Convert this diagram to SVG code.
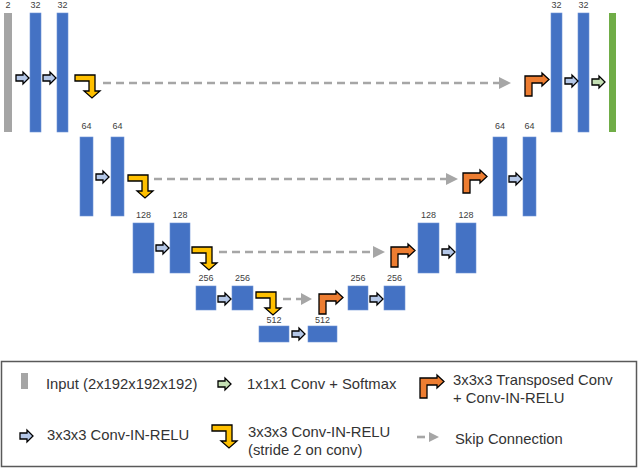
<svg xmlns="http://www.w3.org/2000/svg" xmlns:xlink="http://www.w3.org/1999/xlink" width="640" height="468" viewBox="0 0 640 468">
<style>
.bar{fill:#4472c4;stroke:#6f93d6;stroke-width:0.6}
.inp{fill:#a5a5a5}
.out{fill:#70ad47}
.lbl{font-family:"Liberation Sans",Arial,sans-serif;font-size:9px;fill:#404040;text-anchor:middle}
.leg{font-family:"Liberation Sans",Arial,sans-serif;font-size:14.8px;fill:#333}
.skip{stroke:#a6a6a6;stroke-width:2.6;stroke-dasharray:8 5;fill:none}
.ah{fill:#a6a6a6}
.blk{stroke:#000;stroke-width:1.3;stroke-linejoin:miter}
</style>
<defs>
<path id="conv" class="blk" fill="#b4c7e7" d="M0,3 H7 V0 L13,6 L7,12 V9 H0 Z"/>
<path id="soft" class="blk" fill="#c5e0b4" d="M0,3 H7 V0 L13,6 L7,12 V9 H0 Z"/>
<path id="down" class="blk" fill="#ffc000" d="M0,0 H20 V16 H25 L17,23 L9,16 H14 V6 H0 Z"/>
<path id="up" class="blk" fill="#ed7d31" d="M0,23 V3 H17 V0 L24,6.5 L17,13 V10 H7 V23 Z"/>
</defs>

<g id="nodes">
<g id="input"><rect class="inp" x="4" y="13" width="8" height="119"/><text class="lbl" x="8" y="8">2</text></g>
<g id="enc1a"><rect class="bar" x="30" y="13" width="11" height="119"/><text class="lbl" x="35.5" y="8">32</text></g>
<g id="enc1b"><rect class="bar" x="57" y="13" width="11" height="119"/><text class="lbl" x="62.5" y="8">32</text></g>
<g id="dec1a"><rect class="bar" x="551" y="13" width="11" height="119"/><text class="lbl" x="556.5" y="8">32</text></g>
<g id="dec1b"><rect class="bar" x="578" y="13" width="11" height="119"/><text class="lbl" x="583.5" y="8">32</text></g>
<g id="output"><rect class="out" x="609" y="13" width="7" height="119"/></g>

<g id="enc2a"><rect class="bar" x="80" y="137" width="13" height="79"/><text class="lbl" x="86.5" y="129">64</text></g>
<g id="enc2b"><rect class="bar" x="111" y="137" width="13" height="79"/><text class="lbl" x="117.5" y="129">64</text></g>
<g id="dec2a"><rect class="bar" x="493" y="137" width="14" height="79"/><text class="lbl" x="500" y="129">64</text></g>
<g id="dec2b"><rect class="bar" x="523" y="137" width="13" height="79"/><text class="lbl" x="529.5" y="129">64</text></g>

<g id="enc3a"><rect class="bar" x="133" y="223" width="21" height="50"/><text class="lbl" x="143.5" y="218">128</text></g>
<g id="enc3b"><rect class="bar" x="170" y="223" width="20" height="50"/><text class="lbl" x="180" y="218">128</text></g>
<g id="dec3a"><rect class="bar" x="418" y="223" width="21" height="50"/><text class="lbl" x="428.5" y="218">128</text></g>
<g id="dec3b"><rect class="bar" x="456" y="223" width="20" height="50"/><text class="lbl" x="466" y="218">128</text></g>

<g id="enc4a"><rect class="bar" x="196" y="286" width="20" height="24"/><text class="lbl" x="206" y="281">256</text></g>
<g id="enc4b"><rect class="bar" x="232" y="286" width="21" height="24"/><text class="lbl" x="242.5" y="281">256</text></g>
<g id="dec4a"><rect class="bar" x="348" y="286" width="20" height="24"/><text class="lbl" x="358" y="281">256</text></g>
<g id="dec4b"><rect class="bar" x="384" y="286" width="21" height="24"/><text class="lbl" x="394.5" y="281">256</text></g>

<g id="bott1"><rect class="bar" x="259" y="326" width="30" height="16"/><text class="lbl" x="274" y="323">512</text></g>
<g id="bott2"><rect class="bar" x="308" y="326" width="29" height="16"/><text class="lbl" x="322.5" y="323">512</text></g>
</g>

<g id="connectors">
<line class="skip" x1="103" y1="83" x2="500" y2="83"/><path class="ah" d="M499,77 L511,83 L499,89 Z"/>
<line class="skip" x1="154" y1="179" x2="447" y2="179"/><path class="ah" d="M446,173 L458,179 L446,185 Z"/>
<line class="skip" x1="219" y1="252" x2="374" y2="252"/><path class="ah" d="M373,246 L385,252 L373,258 Z"/>
<line class="skip" x1="283" y1="299" x2="302" y2="299"/><path class="ah" d="M301,293 L312,299 L301,305 Z"/>

<use xlink:href="#conv" x="16" y="72"/>
<use xlink:href="#conv" x="43" y="72"/>
<use xlink:href="#conv" x="565" y="75"/>
<use xlink:href="#soft" x="592" y="76"/>
<use xlink:href="#conv" x="96" y="171"/>
<use xlink:href="#conv" x="509" y="173"/>
<use xlink:href="#conv" x="156" y="242"/>
<use xlink:href="#conv" x="442" y="246"/>
<use xlink:href="#conv" x="218" y="293"/>
<use xlink:href="#conv" x="370" y="293"/>
<use xlink:href="#conv" x="292" y="328"/>

<use xlink:href="#down" x="75" y="75"/>
<use xlink:href="#down" x="128" y="175"/>
<use xlink:href="#down" x="192" y="247"/>
<use xlink:href="#down" x="256" y="292"/>
<use xlink:href="#up" x="525" y="73"/>
<use xlink:href="#up" x="463" y="170"/>
<use xlink:href="#up" x="391" y="244"/>
<use xlink:href="#up" x="319" y="291"/>
</g>

<g id="legend">
<rect x="1.5" y="361.5" width="635" height="105" fill="none" stroke="#595959" stroke-width="1.5"/>
<rect class="inp" x="21" y="373" width="7" height="16"/>
<text class="leg" x="46" y="389">Input (2x192x192x192)</text>
<use xlink:href="#soft" x="218" y="378"/>
<text class="leg" x="247" y="389">1x1x1 Conv + Softmax</text>
<use xlink:href="#up" x="420" y="375"/>
<text class="leg" x="453" y="385">3x3x3 Transposed Conv</text>
<text class="leg" x="453" y="403">+ Conv-IN-RELU</text>
<use xlink:href="#conv" x="20" y="430"/>
<text class="leg" x="47" y="440">3x3x3 Conv-IN-RELU</text>
<use xlink:href="#down" x="212" y="425"/>
<text class="leg" x="248" y="437">3x3x3 Conv-IN-RELU</text>
<text class="leg" x="248" y="455">(stride 2 on conv)</text>
<line class="skip" x1="417" y1="437" x2="429" y2="437" stroke-dasharray="5 3"/>
<path class="ah" d="M429,432 L439,437 L429,442 Z"/>
<text class="leg" x="455" y="444">Skip Connection</text>
</g>
</svg>
